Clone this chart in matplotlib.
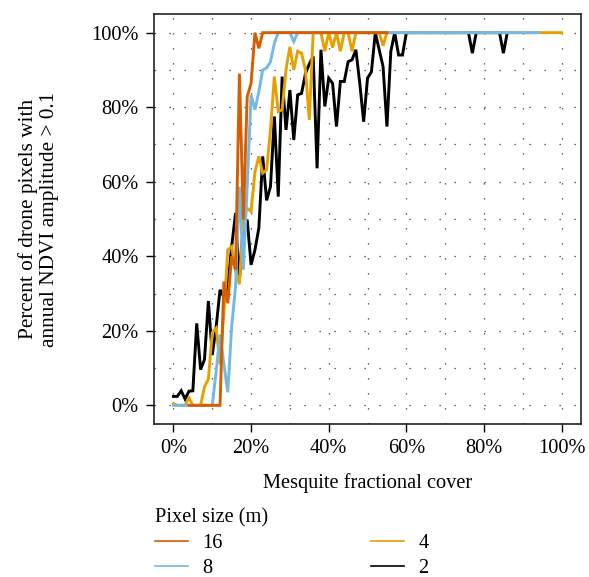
import numpy as np
import matplotlib; matplotlib.use("Agg"); import matplotlib.pyplot as plt
from matplotlib.lines import Line2D
from matplotlib.ticker import FuncFormatter, MultipleLocator

plt.rcParams['font.family'] = ['Liberation Serif', 'DejaVu Serif']
FS = 14.7

# mesquite fractional cover (%), 1% steps
# 2 m pixels: 0..86 %
px2 = [2.4, 2.4, 3.9, 1.7, 3.8, 3.9, 22, 9.6, 12.3, 28, 13.5, 21, 31, 29, 32,
       42.6, 51.6, 33.7, 48, 49.8, 37.7, 41.7, 47.6, 66.8, 55, 58.7, 77.5, 56, 88.2, 73.9,
       84.6, 71.2, 83.3, 83.7, 89, 91.6, 93.6, 63.6, 95.4, 80.2, 87.8, 86.4, 74.8, 86.9, 86.9,
       92.2, 92.7, 95.4, 86.4, 76.1, 87.8, 89.5, 100, 95.4, 90.9, 74.8, 95, 100, 94, 94,
       100, 100, 100, 100, 100, 100, 100, 100, 100, 100, 100, 100, 100, 100, 100,
       100, 100, 94.5, 100, 100, 100, 100, 100, 100, 100, 94.5, 100]
# 4 m pixels: 0..100 %
px4 = [0.5, 0, 0, 0, 2, 0, 0, 0, 5, 7, 19.5, 20.7, 11, 25, 41.7,
       42.6, 36, 32.5, 50.7, 52.9, 52, 62.7, 66.8, 62.3, 63.2, 73.9, 88.2, 78.8, 79.3, 90,
       96.2, 90, 95, 94.5, 90, 76.6, 100, 100, 100, 95, 100, 96, 100, 95, 100,
       100, 95, 100, 100, 100, 100, 100, 100, 100, 96.5] + [100] * 46
# 8 m pixels: 0..94 %
px8 = [0, 0, 0, 0, 0, 0, 0, 0, 0, 0, 0, 9, 19, 11, 3.5,
       21, 32, 58.7, 36.4, 58.7, 83.3, 79.3, 84.2, 90, 90.5, 92.2, 97.2, 100, 100, 100,
       100, 97.6] + [100] * 63
# 16 m pixels: 4..55 %
px16 = [0, 0, 0, 0, 0, 0, 0, 0, 0, 33.2, 27.4, 40, 36.4, 89, 49.8,
        82.8, 86.4, 100, 95.8, 100] + [100] * 32
start = {'2': 0, '4': 0, '8': 0, '16': 4}
series = {'2': px2, '4': px4, '8': px8, '16': px16}
colors = {'16': '#D55E00', '8': '#74B9E4', '4': '#E8A000', '2': '#000000'}

fig = plt.figure(figsize=(5.89, 5.77), dpi=100)
ax = fig.add_axes([0.2615, 0.2652, 0.725, 0.7105])
for k in ['2', '4', '8', '16']:
    y = series[k]
    x = np.arange(start[k], start[k] + len(y))
    ax.plot(x, y, color=colors[k], lw=2.1, solid_joinstyle='miter', zorder=3)

ax.set_xlim(-5, 105); ax.set_ylim(-5, 105)
ax.xaxis.set_major_locator(MultipleLocator(20)); ax.yaxis.set_major_locator(MultipleLocator(20))
ax.xaxis.set_minor_locator(MultipleLocator(10)); ax.yaxis.set_minor_locator(MultipleLocator(10))
pct = FuncFormatter(lambda v, p: "%d%%" % v)
ax.xaxis.set_major_formatter(pct); ax.yaxis.set_major_formatter(pct)
ax.grid(True, which='both', color='#333333', linestyle=(0, (1, 11)), lw=0.9)
ax.tick_params(which='major', direction='out', length=6, width=1, labelsize=FS, pad=5)
ax.tick_params(which='minor', length=0)
for s in ax.spines.values():
    s.set_linewidth(1.2); s.set_color('#222222')

ax.set_xlabel("Mesquite fractional cover", fontsize=FS, labelpad=11)
ax.set_ylabel("Percent of drone pixels with\nannual NDVI amplitude > 0.1", fontsize=15.3,
              labelpad=23, linespacing=1.2)

handles = [Line2D([], [], color=colors[k], lw=1.2) for k in ['16', '8', '4', '2']]
leg = fig.legend(handles, ['16', '8', '4', '2'], ncol=2, title="Pixel size (m)",
                 loc='upper left', bbox_to_anchor=(0.263, 0.119), frameon=False,
                 fontsize=FS, title_fontsize=FS, alignment='left',
                 handlelength=1.6, handletextpad=0.7, columnspacing=7.3,
                 labelspacing=0.3, borderaxespad=0, borderpad=0)
fig.savefig("out.png", dpi=100, facecolor='white')
